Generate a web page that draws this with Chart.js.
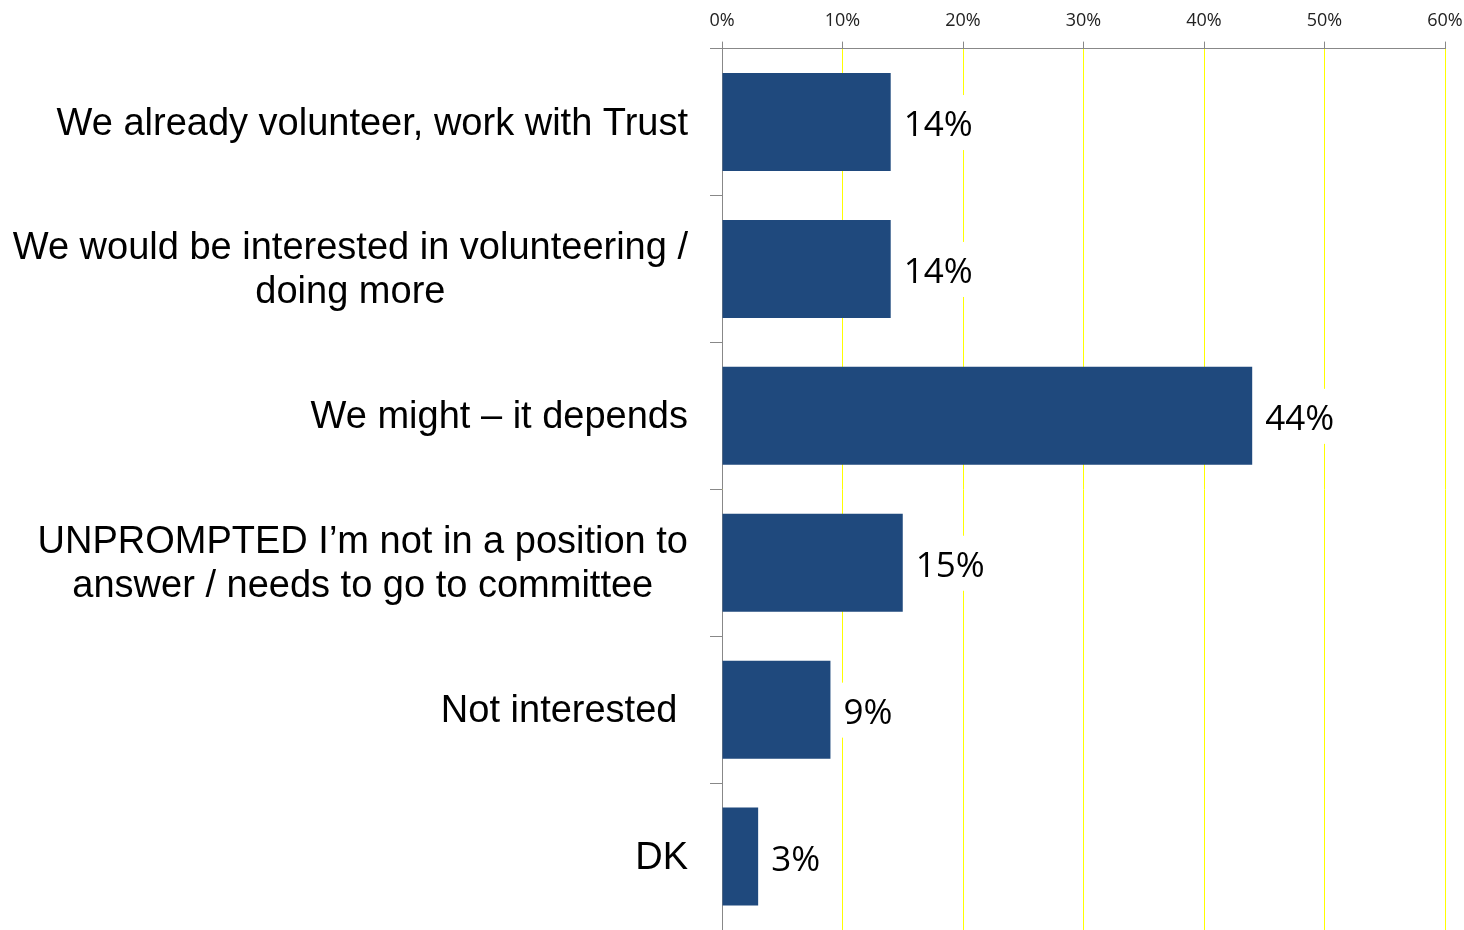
<!DOCTYPE html>
<html>
<head>
<meta charset="utf-8">
<script src="https://cdn.jsdelivr.net/npm/chart.js@4"></script>
<style>
  html, body { margin: 0; padding: 0; background: #fff; }
  #wrap { width: 1464px; height: 930px; }
</style>
</head>
<body>
<div id="wrap"><canvas id="volChart"></canvas></div>
<script>
// Answers, one entry per bar; each entry is the list of lines in its label
const categories = [
  ['We already volunteer, work with Trust'],
  ['We would be interested in volunteering /', 'doing more'],
  ['We might \u2013 it depends'],
  ['UNPROMPTED I\u2019m not in a position to', 'answer / needs to go to committee'],
  ['Not interested '],
  ['DK']
];
const shares = [14, 14, 44, 15, 9, 3];
const xTicks = [0, 10, 20, 30, 40, 50, 60];

// "14%" style labels just past the end of each bar, on a white patch
const valueLabels = {
  id: 'valueLabels',
  afterDatasetsDraw(chart) {
    const { ctx } = chart;
    const meta = chart.getDatasetMeta(0);
    ctx.save();
    ctx.font = '35px "Open Sans", sans-serif';
    ctx.textBaseline = 'middle';
    ctx.textAlign = 'left';
    meta.data.forEach((bar, i) => {
      const text = shares[i] + '%';
      const w = ctx.measureText(text).width;
      const x = bar.x + 13;
      ctx.fillStyle = '#fff';
      ctx.fillRect(x - 6, bar.y - 27, w + 12, 55);
      ctx.fillStyle = '#000';
      ctx.fillText(text, x, bar.y + 4);
    });
    ctx.restore();
  }
};

// category text: lines centred on each other, block right-aligned to the axis
const categoryLabels = {
  id: 'categoryLabels',
  afterDraw(chart) {
    const { ctx, chartArea } = chart;
    const y = chart.scales.y;
    ctx.save();
    ctx.font = '38px "Liberation Sans", Arial, sans-serif';
    ctx.fillStyle = '#000';
    ctx.textBaseline = 'middle';
    ctx.textAlign = 'center';
    const lineH = 44;
    const right = chartArea.left - 34;
    categories.forEach((lines, i) => {
      const widest = Math.max(...lines.map(l => ctx.measureText(l).width));
      const cx = right - widest / 2;
      const cy = y.getPixelForValue(i) + 2;
      lines.forEach((line, j) => {
        ctx.fillText(line, cx, cy + (j - (lines.length - 1) / 2) * lineH);
      });
    });
    ctx.restore();
  }
};

new Chart(document.getElementById('volChart'), {
  type: 'bar',
  data: {
    labels: categories,
    datasets: [{
      data: shares,
      backgroundColor: '#1F497D',
      barPercentage: 0.667,
      categoryPercentage: 1
    }]
  },
  options: {
    indexAxis: 'y',
    responsive: true,
    maintainAspectRatio: false,
    animation: false,
    layout: { padding: { top: 0, right: 0, bottom: 0, left: 0 } },
    plugins: { legend: { display: false }, tooltip: { enabled: false } },
    scales: {
      x: {
        position: 'top',
        min: 0,
        max: 60,
        afterBuildTicks: s => { s.ticks = xTicks.map(v => ({ value: v })); },
        afterFit: s => { s.paddingLeft = 0; s.paddingRight = 19; },
        ticks: {
          callback: v => v + '%',
          color: '#222',
          font: { family: '"Open Sans", sans-serif', size: 18 },
          padding: 10,
          maxRotation: 0
        },
        grid: { color: '#FFFF00', tickColor: '#888', tickLength: 7 },
        border: { color: '#888' }
      },
      y: {
        grid: { drawOnChartArea: false, tickColor: '#888', tickLength: 12, offset: true },
        border: { color: '#888' },
        ticks: { display: false },
        afterFit: s => { s.width = 722; }
      }
    }
  },
  plugins: [valueLabels, categoryLabels]
});
</script>
</body>
</html>
